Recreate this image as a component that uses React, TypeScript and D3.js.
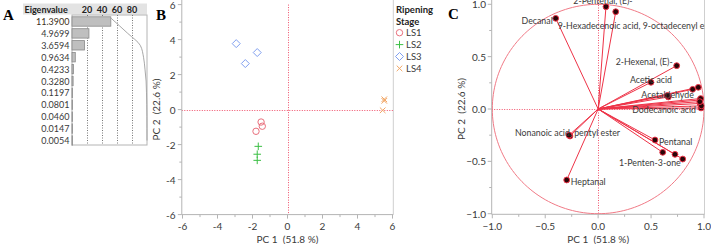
import React from "react";
import * as d3 from "d3";

// ---------- Panel A data ----------
const eigenValues = [11.39, 4.9699, 3.6594, 0.9634, 0.4233, 0.328, 0.1197, 0.0801, 0.046, 0.0147, 0.0054];
const eigenLabels = ["11.3900", "4.9699", "3.6594", "0.9634", "0.4233", "0.3280", "0.1197", "0.0801", "0.0460", "0.0147", "0.0054"];
const pctTicks = [20, 40, 60, 80];

// ---------- Panel B data (scores) ----------
const stageNames = ["LS1", "LS2", "LS3", "LS4"];
const ls1X = [-1.51, -1.44, -1.8];
const ls1Y = [-0.71, -0.95, -1.24];
const ls2X = [-1.67, -1.73, -1.73];
const ls2Y = [-2.1, -2.55, -2.9];
const ls3X = [-2.93, -1.73, -2.41];
const ls3Y = [3.77, 3.26, 2.63];
const ls4X = [5.53, 5.53, 5.44];
const ls4Y = [0.59, 0.5, -0.04];
const scoreTicks = [-6, -4, -2, 0, 2, 4, 6];

// ---------- Panel C data (loadings) ----------
const loadNames = [
  "Decanal", "2-Pentenal, (E)-", "9-Hexadecenoic acid, 9-octadecenyl ester", "2-Hexenal, (E)-",
  "Acetic acid", "Acetaldehyde", "", "", "", "", "", "", "Dodecanoic acid", "",
  "Nonanoic acid, pentyl ester", "", "Pentanal", "", "", "1-Penten-3-one", "Heptanal", ""
];
const loadX = [-0.401, 0.074, 0.166, 0.742, 0.499, 0.663, 0.655, 0.893, 0.946, 0.962, 0.962, 0.968, 0.972, 0.975,
  -0.266, -0.275, 0.537, 0.61, 0.726, 0.799, -0.297, 0.96];
const loadY = [0.866, 0.977, 0.929, 0.414, 0.255, 0.115, 0.13, 0.188, 0.207, 0.086, 0.053, 0.1, 0.01, 0.03,
  -0.258, -0.25, -0.296, -0.414, -0.433, -0.478, -0.678, 0.07];
const loadTicks = [-1, -0.5, 0, 0.5, 1];

// label placement (style): dx, dy, anchor
const labelPlace: Record<string, [number, number, string]> = {
  "Decanal": [-3, 2, "end"],
  "2-Pentenal, (E)-": [-3, -6.2, "middle"],
  "9-Hexadecenoic acid, 9-octadecenyl ester": [-58, 14, "start"],
  "2-Hexenal, (E)-": [-4, -4.5, "end"],
  "Acetic acid": [-21, -3, "start"],
  "Acetaldehyde": [-27, -2.5, "start"],
  "Dodecanoic acid": [-5, 1.5, "end"],
  "Nonanoic acid, pentyl ester": [-55, -3.5, "start"],
  "Pentanal": [4, 2, "start"],
  "1-Penten-3-one": [-2, 3.5, "end"],
  "Heptanal": [4, 2, "start"],
};

const FONT = "Lato, 'Noto Sans', sans-serif";
const TXT = "#3a3a3a";
const AXIS = "#b4b4b4";
const RED = "#ee3347";
const DOT_RED = "#f0506a";
const crisp = (v: number) => Math.round(v) + 0.5;

function PanelA() {
  const total = d3.sum(eigenValues);
  const pcts = eigenValues.map((v) => (v / total) * 100);
  const cum = d3.cumsum(pcts);
  const x = d3.scaleLinear().domain([0, 100]).range([72, 147]);
  const y = d3.scalePoint<number>().domain(d3.range(eigenValues.length)).range([21.5, 140.5]);
  const line = d3
    .line<number>()
    .x((d) => x(d))
    .y((_, i) => (i === 0 ? 18 : y(i)!))
    .curve(d3.curveMonotoneY);
  return (
    <g fontFamily={FONT}>
      <text x={3} y={19.5} fontFamily="'Liberation Serif', 'DejaVu Serif', serif" fontWeight="bold" fontSize={15} fill="#000">A</text>
      <rect x={23} y={3.5} width={124} height={11} fill="#e3e3e3" />
      <text x={24.5} y={9.3} fontSize={9} fontWeight="bold" fill="#222" dominantBaseline="central">Eigenvalue</text>
      {pctTicks.map((t) => (
        <text key={t} x={x(t)} y={9.3} fontSize={9} fontWeight="bold" fill="#222" textAnchor="middle" dominantBaseline="central">{t}</text>
      ))}
      <rect x={72} y={15} width={75} height={130} fill="#fff" stroke={AXIS} strokeWidth={1} />
      {pctTicks.map((t) => (
        <line key={t} x1={crisp(x(t))} x2={crisp(x(t))} y1={15} y2={145} stroke="#777" strokeWidth={1} strokeDasharray="1,1.5" />
      ))}
      {eigenValues.map((v, i) => (
        <rect key={i} x={x(0)} y={y(i)! - 4.7} width={Math.max(0.5, x(pcts[i]) - x(0))} height={9.4}
          fill="#bfbfbf" stroke="#8a8a8a" strokeWidth={0.8} />
      ))}
      <path d={line(cum)!} fill="none" stroke="#a8a8a8" strokeWidth={1} />
      {eigenLabels.map((l, i) => (
        <text key={l} x={69.5} y={y(i)!} fontSize={9} fill={i === 0 ? "#3d3020" : TXT} textAnchor="end" dominantBaseline="central">{l}</text>
      ))}
    </g>
  );
}

function PanelB() {
  const x = d3.scaleLinear().domain([-6, 6]).range([182.5, 392.5]);
  const y = d3.scaleLinear().domain([-6, 6]).range([214.6, 4.6]);
  const axY = 214.6;
  const axX = 181.8;
  const minor = d3.range(-6, 7, 1);
  const red = "#e9707d", green = "#3cbf45", blue = "#809ff0", orange = "#f2a766";
  const colors = [red, green, blue, orange];
  const sym = (k: number, cx: number, cy: number, key: string) => {
    const c = colors[k];
    if (k === 0) return <circle key={key} cx={cx} cy={cy} r={3.2} fill="none" stroke={c} strokeWidth={1} />;
    if (k === 1)
      return (
        <g key={key} stroke={c} strokeWidth={1}>
          <line x1={cx - 3.8} x2={cx + 3.8} y1={cy} y2={cy} />
          <line x1={cx} x2={cx} y1={cy - 3.8} y2={cy + 3.8} />
        </g>
      );
    if (k === 2)
      return <path key={key} d={`M${cx},${cy - 4}L${cx + 4},${cy}L${cx},${cy + 4}L${cx - 4},${cy}Z`} fill="none" stroke={c} strokeWidth={1} />;
    return (
      <g key={key} stroke={c} strokeWidth={1}>
        <line x1={cx - 2.8} x2={cx + 2.8} y1={cy - 2.8} y2={cy + 2.8} />
        <line x1={cx - 2.8} x2={cx + 2.8} y1={cy + 2.8} y2={cy - 2.8} />
      </g>
    );
  };
  const series = [
    [ls1X, ls1Y],
    [ls2X, ls2Y],
    [ls3X, ls3Y],
    [ls4X, ls4Y],
  ];
  return (
    <g fontFamily={FONT}>
      <text x={156} y={19.5} fontFamily="'Liberation Serif', 'DejaVu Serif', serif" fontWeight="bold" fontSize={15} fill="#000">B</text>
      <line x1={393.3} x2={393.3} y1={0} y2={axY} stroke="#cfcfcf" />
      <line x1={crisp(x(0))} x2={crisp(x(0))} y1={y(6)} y2={axY} stroke={DOT_RED} strokeWidth={1} strokeDasharray="1,1.5" />
      <line x1={axX} x2={393} y1={crisp(y(0))} y2={crisp(y(0))} stroke={DOT_RED} strokeWidth={1} strokeDasharray="1,1.5" />
      <line x1={axX} x2={axX} y1={0} y2={axY} stroke={AXIS} />
      <line x1={axX} x2={393.3} y1={axY} y2={axY} stroke={AXIS} />
      {minor.map((t) => (
        <g key={t}>
          <line x1={x(t)} x2={x(t)} y1={axY} y2={axY + (t % 2 === 0 ? 4 : 2.5)} stroke={AXIS} />
          <line x1={axX} x2={axX - (t % 2 === 0 ? 4 : 2.5)} y1={y(t)} y2={y(t)} stroke={AXIS} />
        </g>
      ))}
      {scoreTicks.map((t) => (
        <g key={t} fontSize={10} fill={TXT}>
          <text x={x(t)} y={225.5} textAnchor="middle" dominantBaseline="central">{t}</text>
          <text x={175.5} y={y(t)} textAnchor="end" dominantBaseline="central">{t}</text>
        </g>
      ))}
      <text x={x(0)} y={239} fontSize={10} fill={TXT} textAnchor="middle" dominantBaseline="central" xmlSpace="preserve">PC 1  (51.8 %)</text>
      <text transform={`translate(155.5,${y(0)}) rotate(-90)`} fontSize={10} fill={TXT} textAnchor="middle" dominantBaseline="central" xmlSpace="preserve">PC 2  (22.6 %)</text>
      {series.map(([xs, ys], k) => xs.map((v, i) => sym(k, x(v), y(ys[i]), `${k}-${i}`)))}
      <text x={396} y={9.5} fontSize={9.5} fontWeight="bold" fill="#222" dominantBaseline="central">Ripening</text>
      <text x={396} y={21.5} fontSize={9.5} fontWeight="bold" fill="#222" dominantBaseline="central">Stage</text>
      {stageNames.map((s, k) => {
        const cy = 32.7 + k * 11.9;
        return (
          <g key={s}>
            {sym(k, 399.5, cy, "leg" + s)}
            <text x={406} y={cy} fontSize={9.5} fill={TXT} dominantBaseline="central">{s}</text>
          </g>
        );
      })}
    </g>
  );
}

function PanelC() {
  const x = d3.scaleLinear().domain([-1, 1]).range([492.3, 704]);
  const y = d3.scaleLinear().domain([-1, 1]).range([213.7, 4.3]);
  const axY = 214.3;
  const axX = 491.7;
  const right = 704.5;
  const minor = d3.range(-1, 1.01, 0.25);
  const circle = d3
    .line<number>()
    .x((a) => x(Math.cos(a)))
    .y((a) => y(Math.sin(a)));
  const angles = d3.range(0, 2 * Math.PI + 0.01, Math.PI / 90);
  return (
    <g fontFamily={FONT}>
      <defs>
        <clipPath id="clipC">
          <rect x={axX} y={-10} width={right - axX} height={axY + 10} />
        </clipPath>
      </defs>
      <text x={448} y={19} fontFamily="'Liberation Serif', 'DejaVu Serif', serif" fontWeight="bold" fontSize={15} fill="#000">C</text>
      <line x1={right} x2={right} y1={0} y2={axY} stroke="#cfcfcf" />
      <line x1={crisp(x(0))} x2={crisp(x(0))} y1={0} y2={axY} stroke={DOT_RED} strokeWidth={1} strokeDasharray="1,1.5" />
      <line x1={axX} x2={right} y1={crisp(y(0))} y2={crisp(y(0))} stroke={DOT_RED} strokeWidth={1} strokeDasharray="1,1.5" />
      <line x1={axX} x2={axX} y1={0} y2={axY} stroke={AXIS} />
      <line x1={axX} x2={right} y1={axY} y2={axY} stroke={AXIS} />
      {minor.map((t) => {
        const major = Math.abs(t * 2 - Math.round(t * 2)) < 1e-6;
        return (
          <g key={t}>
            <line x1={x(t)} x2={x(t)} y1={axY} y2={axY + (major ? 4 : 2.5)} stroke={AXIS} />
            <line x1={axX} x2={axX - (major ? 4 : 2.5)} y1={y(t)} y2={y(t)} stroke={AXIS} />
          </g>
        );
      })}
      {loadTicks.map((t) => (
        <g key={t} fontSize={10} fill={TXT}>
          <text x={x(t)} y={225.5} textAnchor="middle" dominantBaseline="central">{d3.format(".1f")(t)}</text>
          <text x={486} y={y(t)} textAnchor="end" dominantBaseline="central">{d3.format(".1f")(t)}</text>
        </g>
      ))}
      <text x={x(0)} y={238.5} fontSize={10} fill={TXT} textAnchor="middle" dominantBaseline="central" xmlSpace="preserve">PC 1  (51.8 %)</text>
      <text transform={`translate(460.5,${y(0)}) rotate(-90)`} fontSize={10} fill={TXT} textAnchor="middle" dominantBaseline="central" xmlSpace="preserve">PC 2  (22.6 %)</text>
      <g clipPath="url(#clipC)">
        <path d={circle(angles)!} fill="none" stroke="#f07a86" strokeWidth={1} />
        {loadX.map((v, i) => (
          <line key={i} x1={x(0)} y1={y(0)} x2={x(v)} y2={y(loadY[i])} stroke={RED} strokeWidth={1} />
        ))}
        {loadX.map((v, i) => (
          <circle key={i} cx={x(v)} cy={y(loadY[i])} r={2.9} fill="#2a0508" stroke={RED} strokeWidth={1} />
        ))}
        {loadNames.map((n, i) => {
          if (!n) return null;
          const [dx, dy, anchor] = labelPlace[n] || [4, 0, "start"];
          return (
            <text key={n} x={x(loadX[i]) + dx} y={y(loadY[i]) + dy} fontSize={8.8} fill={TXT}
              textAnchor={anchor as any} dominantBaseline="central">{n}</text>
          );
        })}
      </g>
    </g>
  );
}

export default function App() {
  return (
    <svg width={711} height={244} viewBox="0 0 711 244" style={{ display: "block", position: "absolute", left: 0, top: 0, background: "#fff" }}>
      <rect width={711} height={244} fill="#fff" />
      <PanelA />
      <PanelB />
      <PanelC />
    </svg>
  );
}
